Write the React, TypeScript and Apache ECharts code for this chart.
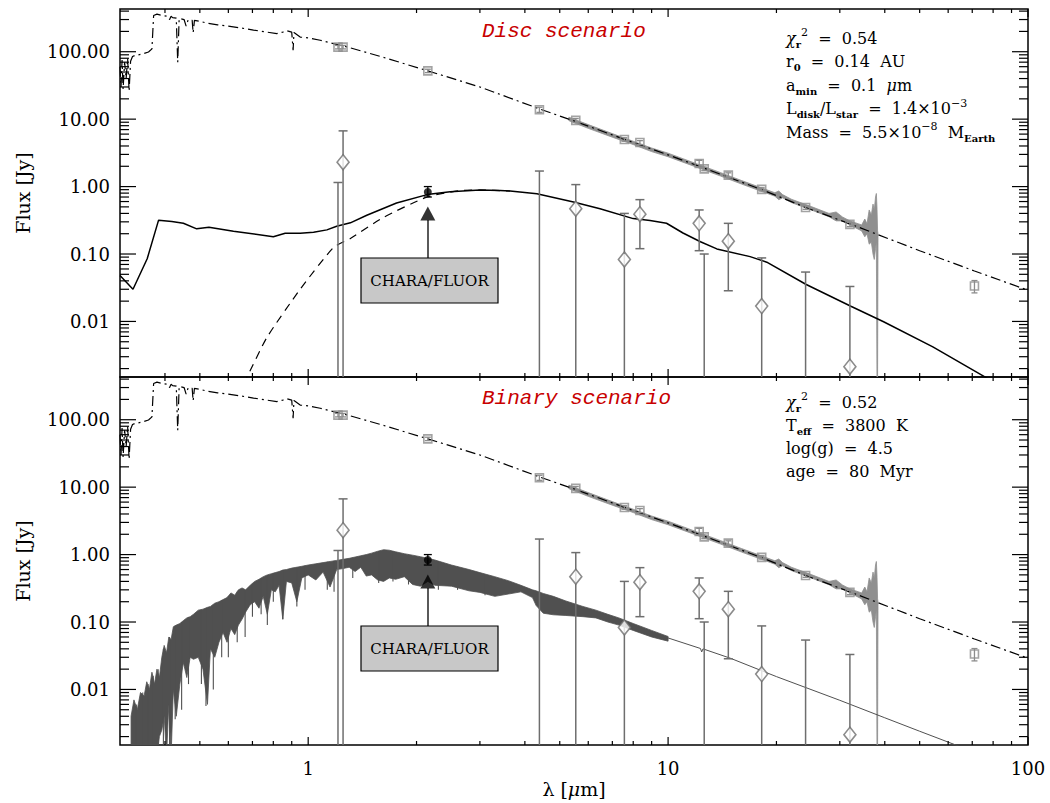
import React, { useEffect, useRef } from 'react';
import * as echarts from 'echarts';

const X_MIN = 0.3;
const X_MAX = 100;
const Y_MIN = 0.0015;
const Y_MAX = 430;

const xMajorTicks = [1, 10, 100];
const xMinorTicks = [0.4, 0.5, 0.6, 0.7, 0.8, 0.9, 2, 3, 4, 5, 6, 7, 8, 9, 20, 30, 40, 50, 60, 70, 80, 90];
const yMajorTicks = [0.01, 0.1, 1, 10, 100];
const yMinorTicks = [0.002, 0.003, 0.004, 0.005, 0.006, 0.007, 0.008, 0.009,
  0.02, 0.03, 0.04, 0.05, 0.06, 0.07, 0.08, 0.09,
  0.2, 0.3, 0.4, 0.5, 0.6, 0.7, 0.8, 0.9,
  2, 3, 4, 5, 6, 7, 8, 9,
  20, 30, 40, 50, 60, 70, 80, 90, 200, 300, 400];

// stellar photosphere model (dash-dot)
const photoLambda = [0.300, 0.302, 0.304, 0.306, 0.309, 0.312, 0.315, 0.318, 0.321, 0.325, 0.330, 0.345, 0.360, 0.368, 0.372, 0.380, 0.392, 0.405, 0.412, 0.416, 0.420, 0.430, 0.434, 0.438, 0.452, 0.458, 0.464, 0.476, 0.479, 0.483, 0.500, 0.520, 0.560, 0.600, 0.650, 0.705, 0.760, 0.818, 0.850, 0.873, 0.900, 0.908, 0.913, 0.950, 1.000, 1.080, 1.280, 1.600, 2.150, 3.000, 4.390, 5.540, 7.500, 10.00, 12.20, 18.20, 24.10, 32.00, 50.00, 71.00, 100.0];
const photoFlux = [60, 30, 75, 28, 70, 40, 80, 26, 72, 85, 88, 92, 99, 110, 345, 361, 345, 337, 300, 335, 320, 315, 70, 312, 300, 240, 298, 293, 190, 291, 282, 268, 250, 240, 225, 209, 197, 186, 195, 204, 195, 105, 192, 165, 160, 148, 118, 84, 52, 30, 14.2, 9.2, 5.1, 2.95, 2.0, 0.9, 0.49, 0.28, 0.112, 0.056, 0.029];

// Spitzer/IRS spectrum band
const irsLambda = [5.3, 6, 7, 8, 9, 10, 12, 14, 16, 18, 19.8, 20.3, 20.8, 22, 25, 28, 29.3, 30.5, 32, 34.5, 35.2, 35.7, 36.2, 36.7, 37.1, 37.4, 37.7, 37.9, 38.05, 38.2, 38.3];
const irsUpper = [10.7, 8.3, 6.1, 4.7, 3.73, 3.13, 2.18, 1.61, 1.23, 0.975, 0.81, 0.86, 0.76, 0.65, 0.505, 0.4, 0.42, 0.355, 0.31, 0.27, 0.33, 0.28, 0.45, 0.38, 0.55, 0.45, 0.70, 0.79, 0.50, 0.22, 0.2];
const irsLower = [9.5, 7.3, 5.4, 4.2, 3.3, 2.77, 1.94, 1.43, 1.09, 0.865, 0.72, 0.64, 0.68, 0.58, 0.45, 0.357, 0.31, 0.31, 0.27, 0.22, 0.18, 0.2, 0.14, 0.15, 0.10, 0.083, 0.12, 0.15, 0.0015, 0.0015, 0.15];

// disc model (solid) and thermal component (dashed)
const discLambda = [0.300, 0.326, 0.357, 0.384, 0.418, 0.450, 0.490, 0.530, 0.620, 0.800, 0.863, 0.950, 1.035, 1.127, 1.200, 1.310, 1.455, 1.760, 2.140, 2.480, 3.000, 3.410, 3.640, 4.320, 5.460, 6.470, 8.000, 8.910, 9.900, 11.00, 12.30, 13.66, 16.90, 18.80, 24.20, 32.20, 39.70, 54.40, 76.50, 85.00];
const discFlux = [0.048, 0.030, 0.085, 0.318, 0.303, 0.286, 0.236, 0.250, 0.218, 0.180, 0.203, 0.203, 0.210, 0.228, 0.258, 0.290, 0.375, 0.570, 0.760, 0.840, 0.890, 0.875, 0.860, 0.780, 0.590, 0.470, 0.335, 0.313, 0.286, 0.205, 0.152, 0.119, 0.0915, 0.0757, 0.0353, 0.0168, 0.0099, 0.0042, 0.00147, 0.0010];
const dustLambda = [0.660, 0.675, 0.768, 0.950, 1.176, 1.310, 1.620, 2.140, 2.640, 3.000, 3.640];
const dustFlux = [0.0012, 0.00147, 0.0058, 0.030, 0.125, 0.170, 0.350, 0.700, 0.870, 0.890, 0.860];

// binary companion spectrum band + absorption lines + tail
const binLambda = [0.322, 0.328, 0.335, 0.342, 0.350, 0.356, 0.362, 0.368, 0.374, 0.380, 0.386, 0.392, 0.398, 0.404, 0.410, 0.416, 0.422, 0.430, 0.440, 0.450, 0.460, 0.470, 0.480, 0.495, 0.510, 0.525, 0.535, 0.550, 0.565, 0.580, 0.595, 0.610, 0.625, 0.640, 0.655, 0.670, 0.690, 0.710, 0.730, 0.750, 0.770, 0.790, 0.810, 0.830, 0.850, 0.870, 0.900, 0.930, 0.960, 1.000, 1.050, 1.100, 1.150, 1.200, 1.250, 1.300, 1.350, 1.400, 1.450, 1.500, 1.560, 1.620, 1.680, 1.750, 1.850, 1.950, 2.050, 2.150, 2.250, 2.500, 2.800, 3.000, 3.300, 3.600, 3.900, 4.200, 4.300, 4.500, 4.800, 5.200, 5.800, 6.300, 6.800, 7.300, 8.000, 9.000, 10.00];
const binUpper = [0.004, 0.007, 0.005, 0.009, 0.008, 0.013, 0.010, 0.018, 0.012, 0.020, 0.015, 0.030, 0.045, 0.035, 0.060, 0.055, 0.085, 0.090, 0.095, 0.105, 0.115, 0.120, 0.130, 0.150, 0.155, 0.165, 0.170, 0.190, 0.200, 0.215, 0.230, 0.270, 0.250, 0.300, 0.320, 0.300, 0.350, 0.400, 0.430, 0.470, 0.500, 0.520, 0.540, 0.560, 0.590, 0.600, 0.630, 0.650, 0.670, 0.700, 0.730, 0.760, 0.790, 0.820, 0.850, 0.880, 0.920, 0.960, 1.000, 1.050, 1.120, 1.180, 1.160, 1.100, 1.030, 0.980, 0.930, 0.880, 0.830, 0.700, 0.600, 0.540, 0.470, 0.410, 0.350, 0.300, 0.290, 0.265, 0.240, 0.205, 0.170, 0.150, 0.130, 0.115, 0.095, 0.075, 0.061];
const binLower = [0.0010, 0.0010, 0.0010, 0.0010, 0.0010, 0.0010, 0.0010, 0.0010, 0.0010, 0.0010, 0.0020, 0.0025, 0.0040, 0.0010, 0.0060, 0.0010, 0.0100, 0.0040, 0.0120, 0.0250, 0.0150, 0.0300, 0.0280, 0.0300, 0.0200, 0.0060, 0.0400, 0.0300, 0.0500, 0.0700, 0.0500, 0.0800, 0.0650, 0.0900, 0.1100, 0.1400, 0.1800, 0.2000, 0.1600, 0.2400, 0.1300, 0.3000, 0.2800, 0.3500, 0.1100, 0.4000, 0.3800, 0.2000, 0.4500, 0.5000, 0.4200, 0.5500, 0.3300, 0.6000, 0.6200, 0.6500, 0.5600, 0.6500, 0.4800, 0.5000, 0.4200, 0.4000, 0.4500, 0.4300, 0.4700, 0.3600, 0.3400, 0.4000, 0.3500, 0.3400, 0.2900, 0.2750, 0.2400, 0.2600, 0.2800, 0.2300, 0.1750, 0.1350, 0.1280, 0.1250, 0.1200, 0.1150, 0.1000, 0.0900, 0.0750, 0.0600, 0.0520];
const binLineLambda = [0.333, 0.347, 0.359, 0.371, 0.383, 0.396, 0.412, 0.427, 0.445, 0.465, 0.505, 0.520, 0.545, 0.575, 0.600, 0.635, 0.668, 0.700, 0.740, 0.770, 0.800, 0.850, 0.930, 0.980, 1.130, 1.180, 1.330, 1.570, 1.720, 1.900, 2.300, 2.600, 3.100];
const binLineLow = [0.0010, 0.0010, 0.0010, 0.0010, 0.0010, 0.0010, 0.0015, 0.0036, 0.0050, 0.0120, 0.0120, 0.0057, 0.0100, 0.0300, 0.0300, 0.0500, 0.0600, 0.1200, 0.1300, 0.0900, 0.2000, 0.1100, 0.1700, 0.3000, 0.3000, 0.2800, 0.4500, 0.3800, 0.4000, 0.3600, 0.3000, 0.3000, 0.2500];
const binLineHigh = [0.006, 0.009, 0.012, 0.016, 0.020, 0.040, 0.060, 0.088, 0.100, 0.118, 0.152, 0.160, 0.180, 0.210, 0.240, 0.280, 0.300, 0.370, 0.450, 0.500, 0.530, 0.590, 0.650, 0.680, 0.780, 0.810, 0.900, 1.120, 1.130, 1.000, 0.800, 0.660, 0.500];
const binTailLambda = [10.0, 12.3, 12.4, 12.5, 14.9, 20.0, 30.0, 40.0, 50.0, 63.0, 70.0];
const binTailFlux = [0.058, 0.0405, 0.036, 0.040, 0.0290, 0.0155, 0.0069, 0.0038, 0.0024, 0.0015, 0.0012];

// photometry (grey squares)
const photLambda = [1.21, 1.25, 2.15, 4.39, 5.54, 7.56, 8.35, 12.2, 12.6, 14.7, 18.2, 24.1, 32.0, 71.0];
const photFlux = [117, 117, 52, 13.8, 9.6, 5.0, 4.5, 2.2, 1.83, 1.48, 0.91, 0.49, 0.275, 0.0335];
const photLow = [110, 110, 49, 12.6, 9.0, 4.7, 4.2, 1.95, 1.72, 1.36, 0.86, 0.46, 0.255, 0.0265];
const photHigh = [124, 124, 55, 15.0, 10.2, 5.3, 4.8, 2.45, 1.94, 1.60, 0.96, 0.52, 0.295, 0.0404];

// excess (diamonds); null = below plot; low 0.001 = bar runs off the bottom
const excessLambda = [1.21, 1.25, 4.39, 5.54, 7.56, 8.35, 12.2, 12.6, 14.7, 18.2, 24.1, 32.0];
const excessFlux = [null, 2.3, null, 0.47, 0.083, 0.39, 0.285, null, 0.155, 0.0169, null, 0.00213];
const excessLow = [0.001, 0.001, 0.001, 0.001, 0.001, 0.12, 0.112, 0.001, 0.0285, 0.001, 0.001, 0.001];
const excessHigh = [1.15, 6.7, 1.7, 1.07, 0.40, 0.64, 0.45, 0.10, 0.285, 0.0875, 0.054, 0.033];

// CHARA/FLUOR
const charaLambda = [2.15];
const charaFlux = [0.83];
const charaLow = [0.70];
const charaHigh = [1.0];
const arrowLambda = [2.15];
const arrowFlux = [0.40];

const SERIF = '"DejaVu Serif", "Liberation Serif", serif';
const GRID_TOPS = [9, 377];
const PANEL_H = 368;

function isPow10(v: number) {
  const l = Math.log10(v);
  return Math.abs(l - Math.round(l)) < 1e-6;
}

function tickSeries(gi: number, values: number[], len: number, dir: 'x' | 'y') {
  return {
    type: 'custom', xAxisIndex: gi, yAxisIndex: gi, silent: true, z: 6,
    data: values.map((v) => (dir === 'x' ? [v, 1] : [1, v])),
    renderItem: (params: any, api: any) => {
      const cs = params.coordSys;
      const p = api.coord([api.value(0), api.value(1)]);
      const style = { stroke: '#000', lineWidth: 1.2 };
      if (dir === 'x') {
        const yb = cs.y + cs.height;
        const yt = cs.y;
        return {
          type: 'group', children: [
            { type: 'line', shape: { x1: p[0], y1: yb, x2: p[0], y2: yb - len }, style },
            { type: 'line', shape: { x1: p[0], y1: yt, x2: p[0], y2: yt + len }, style },
          ],
        };
      }
      const xl = cs.x;
      const xr = cs.x + cs.width;
      return {
        type: 'group', children: [
          { type: 'line', shape: { x1: xl, y1: p[1], x2: xl + len, y2: p[1] }, style },
          { type: 'line', shape: { x1: xr, y1: p[1], x2: xr - len, y2: p[1] }, style },
        ],
      };
    },
  };
}

function bandSeries(gi: number, lam: number[], up: number[], lo: number[], color: string, z: number) {
  return {
    type: 'custom', xAxisIndex: gi, yAxisIndex: gi, silent: true, clip: true, z,
    data: [[lam[0], up[0]]],
    renderItem: (params: any, api: any) => {
      const pts: number[][] = [];
      for (let i = 0; i < lam.length; i++) pts.push(api.coord([lam[i], up[i]]));
      for (let i = lam.length - 1; i >= 0; i--) pts.push(api.coord([lam[i], lo[i]]));
      return { type: 'polygon', shape: { points: pts }, style: { fill: color, stroke: color, lineWidth: 0.8 } };
    },
  };
}

function errSeries(gi: number, lam: number[], lo: number[], hi: number[], color: string, cap: number, width: number, z = 4) {
  return {
    type: 'custom', xAxisIndex: gi, yAxisIndex: gi, silent: true, clip: true, z,
    data: lam.map((l, i) => [l, lo[i], hi[i]]),
    encode: { x: 0, y: [1, 2] },
    renderItem: (params: any, api: any) => {
      const x = api.value(0);
      const a = api.coord([x, api.value(2)]);
      const b = api.coord([x, api.value(1)]);
      const style = { stroke: color, lineWidth: width };
      const children: any[] = [{ type: 'line', shape: { x1: a[0], y1: a[1], x2: b[0], y2: b[1] }, style }];
      if (cap > 0) {
        children.push({ type: 'line', shape: { x1: a[0] - cap, y1: a[1], x2: a[0] + cap, y2: a[1] }, style });
        children.push({ type: 'line', shape: { x1: b[0] - cap, y1: b[1], x2: b[0] + cap, y2: b[1] }, style });
      }
      return { type: 'group', children };
    },
  };
}

const zip = (a: number[], b: (number | null)[]) =>
  a.map((v, i) => [v, b[i]]).filter((p) => p[1] !== null);

function panelSeries(gi: number) {
  const s: any[] = [
    tickSeries(gi, xMajorTicks, 8, 'x'),
    tickSeries(gi, xMinorTicks, 4, 'x'),
    tickSeries(gi, yMajorTicks, 16, 'y'),
    tickSeries(gi, yMinorTicks, 9, 'y'),
    bandSeries(gi, irsLambda, irsUpper, irsLower, '#8f8f8f', 2),
  ];
  if (gi === 1) {
    s.push(bandSeries(1, binLambda, binUpper, binLower, '#505050', 2));
    s.push(errSeries(1, binLineLambda, binLineLow, binLineHigh, '#505050', 0, 1.1, 2));
    s.push({
      type: 'line', xAxisIndex: 1, yAxisIndex: 1, data: zip(binTailLambda, binTailFlux), showSymbol: false,
      lineStyle: { color: '#505050', width: 1 }, z: 2, silent: true,
    });
  }
  s.push({
    type: 'line', xAxisIndex: gi, yAxisIndex: gi, data: zip(photoLambda, photoFlux), showSymbol: false,
    lineStyle: { color: '#000', width: 1.2, type: [10, 4, 2, 4] }, z: 3, silent: true,
  });
  if (gi === 0) {
    s.push({
      type: 'line', xAxisIndex: 0, yAxisIndex: 0, data: zip(dustLambda, dustFlux), showSymbol: false,
      lineStyle: { color: '#000', width: 1.2, type: [8, 6] }, z: 3, silent: true, smooth: 0.2,
    });
    s.push({
      type: 'line', xAxisIndex: 0, yAxisIndex: 0, data: zip(discLambda, discFlux), showSymbol: false,
      lineStyle: { color: '#000', width: 1.5 }, z: 3, silent: true,
    });
  }
  s.push(errSeries(gi, excessLambda, excessLow, excessHigh, '#6e6e6e', 4.5, 1.5));
  s.push(errSeries(gi, photLambda, photLow, photHigh, '#8c8c8c', 3, 1.3));
  s.push({
    type: 'scatter', xAxisIndex: gi, yAxisIndex: gi, data: zip(photLambda, photFlux), symbol: 'rect', symbolSize: 8,
    itemStyle: { color: 'transparent', borderColor: '#8c8c8c', borderWidth: 1.6 }, z: 5, silent: true,
  });
  s.push({
    type: 'scatter', xAxisIndex: gi, yAxisIndex: gi, data: zip(excessLambda, excessFlux), symbol: 'diamond', symbolSize: [12, 15],
    itemStyle: { color: '#fff', borderColor: '#6e6e6e', borderWidth: 1.6 }, z: 5, silent: true,
  });
  s.push(errSeries(gi, charaLambda, charaLow, charaHigh, '#000', 4, 1.3));
  s.push({
    type: 'scatter', xAxisIndex: gi, yAxisIndex: gi, data: zip(charaLambda, charaFlux), symbol: 'circle', symbolSize: 8,
    itemStyle: { color: '#000' }, z: 5, silent: true,
  });
  s.push({
    type: 'scatter', xAxisIndex: gi, yAxisIndex: gi, data: zip(arrowLambda, arrowFlux), symbol: 'triangle', symbolSize: [15, 14],
    itemStyle: { color: '#000' }, z: 5, silent: true,
  });
  return s;
}

const statRich = {
  n: { fontFamily: SERIF, fontSize: 16, color: '#000', lineHeight: 22, verticalAlign: 'middle' },
  it: { fontFamily: SERIF, fontSize: 16, color: '#000', fontStyle: 'italic', lineHeight: 22, verticalAlign: 'middle' },
  sub: { fontFamily: SERIF, fontSize: 10, fontWeight: 'bold', color: '#000', verticalAlign: 'bottom' },
  sup: { fontFamily: SERIF, fontSize: 11, color: '#000', verticalAlign: 'top' },
};

const S = '\u00a0';
const discStats = [
  `{it|χ}{sub|r}{sup|2}{n|${S}${S}=${S}${S}0.54}`,
  `{n|r}{sub|0}{n|${S}${S}=${S}${S}0.14${S}${S}AU}`,
  `{n|a}{sub|min}{n|${S}${S}=${S}${S}0.1${S}${S}}{it|μ}{n|m}`,
  `{n|L}{sub|disk}{n|/L}{sub|star}{n|${S}${S}=${S}${S}1.4×10}{sup|−3}`,
  `{n|Mass${S}${S}=${S}${S}5.5×10}{sup|−8}{n|${S}${S}M}{sub|Earth}`,
];
const discStatY = [38, 61.5, 85, 108.5, 132];
const binStats = [
  `{it|χ}{sub|r}{sup|2}{n|${S}${S}=${S}${S}0.52}`,
  `{n|T}{sub|eff}{n|${S}${S}=${S}${S}3800${S}${S}K}`,
  `{n|log(g)${S}${S}=${S}${S}4.5}`,
  `{n|age${S}${S}=${S}${S}80${S}${S}Myr}`,
];
const binStatY = [402, 425, 448, 471];

function buildGraphics() {
  const g: any[] = [];
  discStats.forEach((t, i) => g.push({ type: 'text', x: 786, y: discStatY[i], style: { text: t, rich: statRich, verticalAlign: 'middle', align: 'left' }, z: 10 }));
  binStats.forEach((t, i) => g.push({ type: 'text', x: 786, y: binStatY[i], style: { text: t, rich: statRich, verticalAlign: 'middle', align: 'left' }, z: 10 }));
  const scen = [['Disc scenario', 31], ['Binary scenario', 398]];
  scen.forEach(([t, y]) => g.push({
    type: 'text', x: 482, y, z: 10,
    style: { text: t, fontFamily: '"Liberation Mono", monospace', fontStyle: 'italic', fontSize: 21, fill: '#c80000', verticalAlign: 'middle', align: 'left' },
  }));
  GRID_TOPS.forEach((top) => {
    const off = top - GRID_TOPS[0];
    g.push({ type: 'line', z: 10, shape: { x1: 428, y1: 220 + off, x2: 428, y2: 258 + off }, style: { stroke: '#000', lineWidth: 1.3 } });
    g.push({ type: 'rect', z: 10, shape: { x: 361, y: 258 + off, width: 137, height: 45 }, style: { fill: '#c8c8c8', stroke: '#000', lineWidth: 1.2 } });
    g.push({ type: 'text', z: 11, x: 429.5, y: 281 + off, style: { text: 'CHARA/FLUOR', fontFamily: SERIF, fontSize: 15, fill: '#000', align: 'center', verticalAlign: 'middle' } });
  });
  return g;
}

function buildOption() {
  const xAxis = [0, 1].map((gi) => ({
    gridIndex: gi, type: 'log', logBase: 10, min: X_MIN, max: X_MAX,
    axisLine: { show: false }, axisTick: { show: false }, splitLine: { show: false },
    axisLabel: {
      show: gi === 1, margin: 14, fontFamily: SERIF, fontSize: 18, color: '#000',
      formatter: (v: number) => (isPow10(v) ? String(Math.round(v)) : ''),
    },
    name: gi === 1 ? '{n|λ [}{i|μ}{n|m]}' : '',
    nameLocation: 'middle', nameGap: 34,
    nameTextStyle: {
      rich: {
        n: { fontFamily: SERIF, fontSize: 19, color: '#000' },
        i: { fontFamily: SERIF, fontSize: 19, color: '#000', fontStyle: 'italic' },
      },
    },
  }));
  const yAxis = [0, 1].map((gi) => ({
    gridIndex: gi, type: 'log', logBase: 10, min: Y_MIN, max: Y_MAX,
    axisLine: { show: false }, axisTick: { show: false }, splitLine: { show: false },
    axisLabel: {
      margin: 10, fontFamily: SERIF, fontSize: 18, color: '#000',
      formatter: (v: number) => (isPow10(v) ? v.toFixed(2) : ''),
    },
    name: 'Flux [Jy]', nameLocation: 'middle', nameGap: 88,
    nameTextStyle: { fontFamily: SERIF, fontSize: 19, color: '#000' },
  }));
  return {
    animation: false,
    backgroundColor: '#fff',
    grid: GRID_TOPS.map((top) => ({
      left: 120, right: 22, top, height: PANEL_H, show: true,
      borderColor: '#000', borderWidth: 1.5, backgroundColor: 'transparent',
    })),
    xAxis,
    yAxis,
    series: [...panelSeries(0), ...panelSeries(1)],
    graphic: buildGraphics(),
  };
}

export default function App() {
  const ref = useRef<HTMLDivElement>(null);
  useEffect(() => {
    const chart = echarts.init(ref.current as HTMLDivElement, null, { renderer: 'svg' });
    chart.setOption(buildOption() as any);
    return () => chart.dispose();
  }, []);
  return (
    <div
      ref={ref}
      style={{ position: 'absolute', left: 0, top: 0, width: 1050, height: 803, background: '#fff' }}
    />
  );
}
